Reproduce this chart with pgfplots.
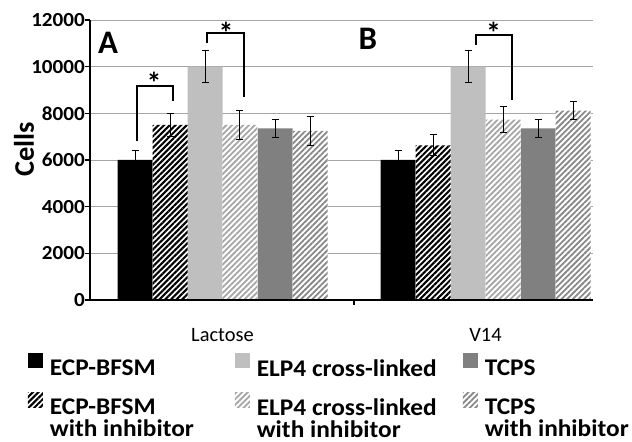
\documentclass[border=0pt]{standalone}
\usepackage{pgfplots}
\pgfplotsset{compat=1.18}
\usepackage{fontspec}
\setmainfont{Carlito}
\newfontfamily\widefont[FakeStretch=1.06]{Carlito}
\usetikzlibrary{patterns.meta}
\definecolor{lgray}{HTML}{BFBFBF}
\definecolor{dgray}{HTML}{808080}
\definecolor{hlgray}{HTML}{A6A6A6}
\definecolor{hdgray}{HTML}{888888}
\definecolor{gridc}{HTML}{A6A6A6}
\pgfplotsset{
  eb/.style={error bars/y dir=both, error bars/y explicit,
    error bars/error bar style={black, line width=1bp},
    error bars/error mark options={black, line width=1bp, mark size=3.5bp, rotate=90}},
  barleg/.style={legend image code/.code={\fill[##1,draw=none] (0bp,0bp) rectangle (15bp,15bp);}},
  mybar/.style={ybar, bar width=35bp, bar shift=0pt, draw=none, eb, barleg},
}
\newcommand{\twol}[2]{\begin{tabular}[t]{@{}l@{}}#1\\[-1bp]#2\end{tabular}}
\begin{document}
\begin{tikzpicture}
\path[use as bounding box] (0,0) rectangle (632bp,442bp);
\begin{axis}[
  at={(90bp,142bp)}, anchor=south west,
  scale only axis, width=503bp, height=280bp,
  xmin=-0.5038, xmax=1.4087, ymin=0, ymax=12000,
  clip=false,
  axis x line*=bottom, axis y line*=left,
  x axis line style={line width=2bp, -},
  y axis line style={line width=1.3bp, -},
  tick align=outside,
  major tick length=5bp,
  ytick={0,2000,...,12000},
  scaled y ticks=false,
  ymajorgrids, grid style={gridc, line width=0.9bp},
  ytick style={black, line width=1.2bp},
  xtick={0.5}, xticklabels={},
  xtick style={black, line width=1.2bp},
  extra x ticks={0,1}, extra x tick labels={Lactose,V14},
  extra x tick style={major tick length=0pt, grid=none},
  xticklabel style={font=\fontsize{20.5}{24}\selectfont, inner sep=0pt, anchor=center, yshift=-35bp},
  yticklabel style={font=\widefont\fontsize{20}{24}\selectfont\bfseries, inner sep=0pt, anchor=east},
  /pgf/number format/1000 sep={}, /pgf/number format/assume math mode=true,
  ylabel={Cells},
  every axis y label/.style={at={(axis description cs:-0.1312,0.539)}, rotate=90, anchor=center, inner sep=0pt, font=\fontsize{28.5}{30}\selectfont\bfseries},
  legend columns=3,
  legend style={at={(axis description cs:-0.1233,-0.191)}, anchor=north west, draw=none, fill=none,
    inner sep=0pt, outer sep=0pt, font=\widefont\fontsize{24}{20.5}\selectfont\bfseries,
    row sep=15bp, nodes={inner sep=0pt},
    /tikz/every odd column/.append style={column sep=7bp},
    /tikz/column 2/.append style={column sep=41bp},
    /tikz/column 4/.append style={column sep=26bp}},
  legend cell align=left,
]
% x positions: group centre 0 (Lactose) and 1 (V14); bar width 35bp = 0.13308 units
% order for legend: ECP, ELP4, TCPS, then inhibitor variants
\addplot[mybar, fill=black] coordinates {(-0.3327,6000) +- (0,400) (0.6673,6000) +- (0,400)};
\addlegendentry{ECP-BFSM}
\addplot[mybar, fill=lgray] coordinates {(-0.0665,10000) +- (0,700) (0.9335,10000) +- (0,700)};
\addlegendentry{ELP4 cross-linked}
\addplot[mybar, fill=dgray] coordinates {(0.1996,7350) +- (0,370) (1.1996,7350) +- (0,370)};
\addlegendentry{TCPS}
\addplot[mybar, fill=white, postaction={pattern={Lines[angle=45,distance=4bp,line width=2.1bp]}, pattern color=black}] coordinates {(-0.1996,7500) +- (0,500) (0.8004,6630) +- (0,450)};
\addlegendentry{\twol{ECP-BFSM}{with inhibitor}}
\addplot[mybar, fill=white, postaction={pattern={Lines[angle=45,distance=4bp,line width=1.8bp]}, pattern color=hlgray}] coordinates {(0.0665,7500) +- (0,630) (1.0665,7730) +- (0,560)};
\addlegendentry{\twol{ELP4 cross-linked}{with inhibitor}}
\addplot[mybar, fill=white, postaction={pattern={Lines[angle=45,distance=4bp,line width=1.8bp]}, pattern color=hdgray}] coordinates {(0.3327,7250) +- (0,635) (1.3327,8120) +- (0,370)};
\addlegendentry{\twol{TCPS}{with inhibitor}}
% x axis line on top of bars
\addplot[sharp plot, black, line width=2bp, forget plot, mark=none] coordinates {(-0.5038,0) (1.4087,0)};
% significance brackets
\addplot[sharp plot, black, line width=2bp, forget plot, mark=none, line join=miter] coordinates {(-0.326,6814) (-0.326,9171) (-0.187,9171) (-0.187,8529)};
\addplot[sharp plot, black, line width=2bp, forget plot, mark=none, line join=miter] coordinates {(-0.058,11000) (-0.058,11430) (0.081,11430) (0.081,8714)};
\addplot[sharp plot, black, line width=2bp, forget plot, mark=none, line join=miter] coordinates {(0.963,10929) (0.963,11357) (1.100,11357) (1.100,8571)};
\node[anchor=north, inner sep=0pt, font=\fontsize{30}{30}\selectfont\bfseries] at (axis cs:-0.2605,9771) {*};
\node[anchor=north, inner sep=0pt, font=\fontsize{30}{30}\selectfont\bfseries] at (axis cs:0.0133,11914) {*};
\node[anchor=north, inner sep=0pt, font=\fontsize{30}{30}\selectfont\bfseries] at (axis cs:1.0304,11914) {*};
\node[inner sep=0pt, font=\fontsize{33}{36}\selectfont\bfseries] at (axis cs:-0.4354,11036) {A};
\node[inner sep=0pt, font=\fontsize{33}{36}\selectfont\bfseries] at (axis cs:0.553,11186) {B};
\end{axis}
\end{tikzpicture}
\end{document}
